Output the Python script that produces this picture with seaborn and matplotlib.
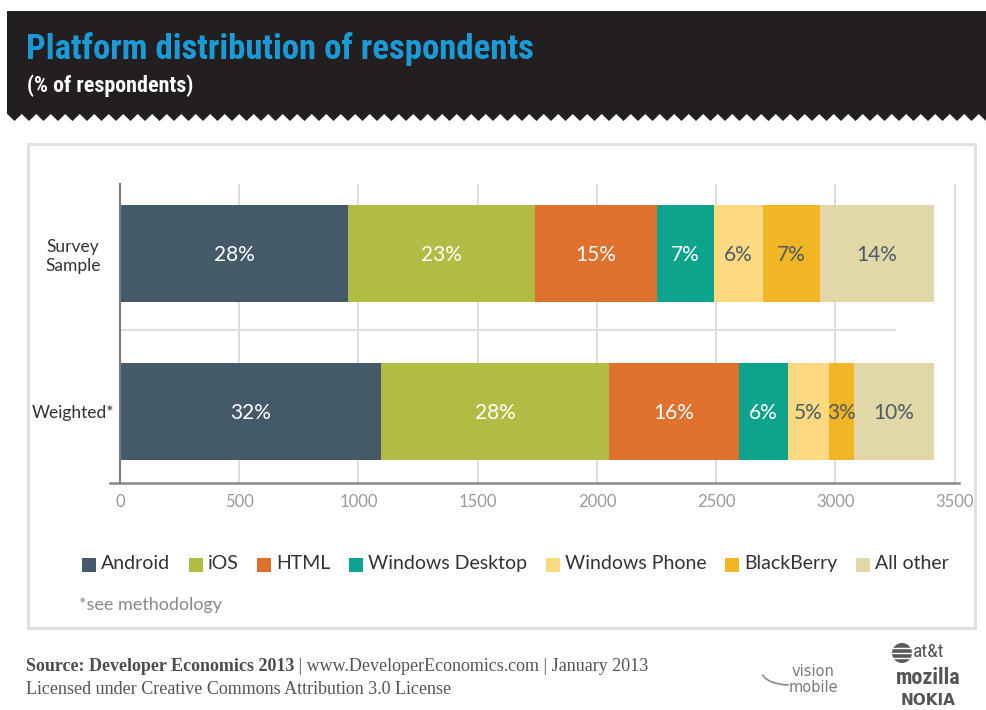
import numpy as np
import pandas as pd
import matplotlib
matplotlib.use("Agg")
import matplotlib.pyplot as plt
import seaborn as sns
from matplotlib import font_manager as fm
from matplotlib.patches import Rectangle, Polygon, Circle, Arc

# ---------------- data ----------------
categories = ["Survey\nSample", "Weighted*"]
platforms = ["Android", "iOS", "HTML", "Windows Desktop", "Windows Phone", "BlackBerry", "All other"]
survey_values = [955, 785, 512, 239, 205, 239, 478]
weighted_values = [1094, 956, 545, 206, 172, 105, 335]
survey_pct = ["28%", "23%", "15%", "7%", "6%", "7%", "14%"]
weighted_pct = ["32%", "28%", "16%", "6%", "5%", "3%", "10%"]
xticks = [0, 500, 1000, 1500, 2000, 2500, 3000, 3500]
colors = ["#455a69", "#b0bc43", "#e0712c", "#0ea38c", "#fdd982", "#f2b526", "#e2d8a7"]
label_colors = ["white", "white", "white", "white", "#4d5b66", "#4d5b66", "#4d5b66"]

title = "Platform distribution of respondents"
subtitle = "(% of respondents)"
note = "*see methodology"
source_bold = "Source: Developer Economics 2013"
source_rest = " | www.DeveloperEconomics.com | January 2013"
license_txt = "Licensed under Creative Commons Attribution 3.0 License"

# ---------------- fonts ----------------
sns.set_theme(style="white")
available = {f.name for f in fm.fontManager.ttflist}


def pick(cands):
    for c in cands:
        if c in available:
            return c
    return "DejaVu Sans"


body = pick(["Lato", "Open Sans", "Noto Sans", "DejaVu Sans"])
cond = pick(["Roboto Condensed", "Liberation Sans Narrow", "DejaVu Sans Condensed",
             "Open Sans Condensed", "Noto Sans Condensed", "Roboto", "Liberation Sans"])
serif = pick(["Liberation Serif", "DejaVu Serif"])
plt.rcParams["font.family"] = [body, "DejaVu Sans"]

W, H = 986, 710
fig = plt.figure(figsize=(W / 100, H / 100), dpi=100)
fig.patch.set_facecolor("white")

# background overlay axes in pixel coordinates
bg = fig.add_axes([0, 0, 1, 1], zorder=-1)
bg.set_xlim(0, W)
bg.set_ylim(H, 0)
bg.axis("off")

# header band with zig-zag bottom
pts = [(7, 11), (W, 11)]
step = 7.25
x = W
k = 0
while x >= 7:
    pts.append((x, 121 if k % 2 == 0 else 114))
    x -= step
    k += 1
pts.append((7, 114))
bg.add_patch(Polygon(pts, closed=True, facecolor="#231f20", edgecolor="none"))

renderer = fig.canvas.get_renderer()


def width_px(txt):
    return txt.get_window_extent(renderer=renderer).width


def fit(txt, target):
    txt.set_fontsize(txt.get_fontsize() * target / width_px(txt))


t1 = bg.text(26, 59, title, color="#1a9bd7", fontsize=30, fontweight="bold",
             family=cond, ha="left", va="baseline")
fit(t1, 508)
t2 = bg.text(27, 92, subtitle, color="white", fontsize=18, fontweight="bold",
             family=cond, ha="left", va="baseline")
fit(t2, 166)

# panel border
bg.add_patch(Rectangle((28, 144), 947, 484, facecolor="none", edgecolor="#e0e0e0", lw=2.2))

# ---------------- chart ----------------
ax = fig.add_axes([110 / W, 1 - 483 / H, (959 - 110) / W, (483 - 184) / H])
ax.set_facecolor("none")

rows = []
for cat, vals in zip(categories, [survey_values, weighted_values]):
    cum = np.cumsum(vals)
    for p, v, c in zip(platforms, vals, cum):
        rows.append({"category": cat, "platform": p, "value": v, "cum": c})
df = pd.DataFrame(rows)

for p, col in reversed(list(zip(platforms, colors))):
    sub = df[df["platform"] == p]
    sns.barplot(data=sub, x="cum", y="category", order=categories, orient="h",
                color=col, saturation=1, width=0.614, linewidth=0, errorbar=None,
                ax=ax, zorder=3)

for i, (vals, pcts) in enumerate([(survey_values, survey_pct), (weighted_values, weighted_pct)]):
    starts = np.concatenate([[0], np.cumsum(vals)[:-1]])
    for s, v, ptxt, lc in zip(starts, vals, pcts, label_colors):
        ax.text(s + v / 2, i + 0.01, ptxt, ha="center", va="center", color=lc,
                fontsize=15, fontweight="normal", zorder=6)

ax.set_xlim(-42, 3518)
ax.set_ylim(1.453, -0.44)
ax.set_xticks(xticks)
ax.set_xticklabels([str(t) for t in xticks])
ax.set_xlabel("")
ax.set_ylabel("")
ax.xaxis.grid(True, color="#d8d8d8", lw=1.2)
ax.yaxis.grid(False)
ax.set_axisbelow(True)
ax.axhline(0.485, xmin=(120 - 110) / 849, xmax=(895 - 110) / 849, color="#dedede", lw=1.6, zorder=1)

for s in ["top", "right"]:
    ax.spines[s].set_visible(False)
ax.spines["left"].set_position(("data", 0))
ax.spines["left"].set_color("#7a7a7a")
ax.spines["left"].set_linewidth(1.5)
ax.spines["left"].set_zorder(4)
ax.spines["bottom"].set_color("#8a8a8a")
ax.spines["bottom"].set_linewidth(1.8)

ax.tick_params(axis="x", length=0, pad=8, labelsize=12, labelcolor="#9a9a9a")
ax.tick_params(axis="y", length=0, pad=34, labelsize=12.5, labelcolor="#333333")
for lbl in ax.get_yticklabels():
    lbl.set_ha("center")
    lbl.set_multialignment("center")

# legend row (square swatch + label, spread to the reference width)
lfs = 14
sq = 14
pad_txt = 5
leg_texts = [bg.text(0, 569, p, fontsize=lfs, color="#333333", ha="left", va="baseline")
             for p in platforms]
widths = [width_px(t) for t in leg_texts]
x0, x1 = 82, 949
gap = (x1 - x0 - sum(widths) - len(platforms) * (sq + pad_txt)) / (len(platforms) - 1)
xc = x0
for t, w, c in zip(leg_texts, widths, colors):
    bg.add_patch(Rectangle((xc, 558), sq, sq, facecolor=c, edgecolor="none"))
    t.set_x(xc + sq + pad_txt)
    xc += sq + pad_txt + w + gap

bg.text(79, 605, note, color="#8a8a8a", fontsize=13, ha="left", va="center")

# footer
s1 = bg.text(26, 671, source_bold, color="#4d4d4d", fontsize=12, fontweight="bold",
             family=serif, ha="left", va="baseline")
s2 = bg.text(26, 671, source_rest, color="#555555", fontsize=12,
             family=serif, ha="left", va="baseline")
w_total = width_px(s1) + width_px(s2)
fs = 12 * 622 / w_total
s1.set_fontsize(fs)
s2.set_fontsize(fs)
s2.set_x(26 + width_px(s1))
bg.text(26, 694, license_txt, color="#555555", fontsize=fs,
        family=serif, ha="left", va="baseline")

# logo texts
bg.add_patch(Arc((790, 672), 56, 26, theta1=95, theta2=175, color="#8a8a8a", lw=1.2))
bg.text(813, 671, "vision", color="#7a7a7a", fontsize=10.5, ha="center", va="center",
        family="DejaVu Sans")
bg.text(813, 688, "mobile", color="#7a7a7a", fontsize=10.5, ha="center", va="center",
        family="DejaVu Sans")
bg.add_patch(Circle((902, 653), 10, facecolor="#5a5a5a", edgecolor="none"))
for dy in (-5, 0, 5):
    bg.plot([892, 912], [653 + dy, 653 + dy], color="white", lw=1)
bg.text(913, 652, "at&t", color="#555555", fontsize=14, ha="left", va="center",
        family=cond)
bg.text(928, 678, "mozilla", color="#555555", fontsize=16, fontweight="bold",
        ha="center", va="center", family=cond)
bg.text(928, 708, "NOKIA", color="#555555", fontsize=11, fontweight="bold",
        ha="center", va="bottom", family="DejaVu Sans")

fig.savefig("out.png", dpi=100, facecolor="white")
